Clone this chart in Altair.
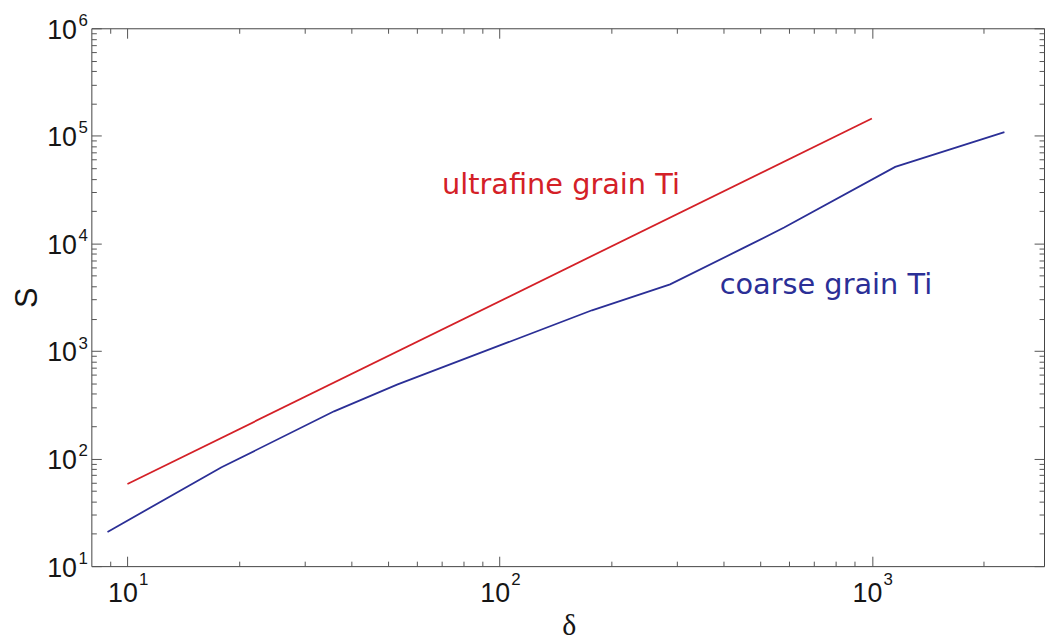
import altair as alt
import pandas as pd

# ---------------- data ----------------
series_names = ["ultrafine grain Ti", "coarse grain Ti"]
series_colors = ["#d42027", "#2b2f96"]

ufg_delta = [10, 1000]
ufg_S = [58, 145000]

cg_delta = [8.84, 17.9, 35.9, 53, 177, 287, 455, 581, 1155, 2270]
cg_S = [20.8, 83, 275, 486, 2390, 4160, 9180, 14060, 51400, 108200]

label_text = ["ultrafine grain Ti", "coarse grain Ti"]
label_delta = [70, 390]
label_S = [28600, 3410]

x_domain = [8, 2900]
y_domain = [10, 1000000]
x_major = [10, 100, 1000]
x_minor = [9] + [m * d for d in (10, 100) for m in range(2, 10)] + [2000]
y_major = [10, 100, 1000, 10000, 100000, 1000000]
y_minor = [m * d for d in (10, 100, 1000, 10000, 100000) for m in range(2, 10)]

lines = pd.concat([
    pd.DataFrame({"delta": ufg_delta, "S": ufg_S, "series": series_names[0]}),
    pd.DataFrame({"delta": cg_delta, "S": cg_S, "series": series_names[1]}),
], ignore_index=True)
labels = pd.DataFrame({"delta": label_delta, "S": label_S,
                       "series": series_names, "label": label_text})

# ---------------- scales / axes ----------------
xs = alt.Scale(type="log", domain=x_domain, nice=False)
ys = alt.Scale(type="log", domain=y_domain, nice=False)
cs = alt.Scale(domain=series_names, range=series_colors)

TICK = "#555555"
LBL = "#151515"
common = dict(grid=False, domain=False, tickColor=TICK, tickWidth=1,
              labelFlush=False, labelOverlap=False, labelBound=False, title=None)


def major_ticks(orient, values):
    return alt.Axis(orient=orient, values=values, offset=-10, tickSize=10,
                    labels=False, **common)


def minor_ticks(orient, values):
    return alt.Axis(orient=orient, values=values, offset=-5, tickSize=5,
                    labels=False, **common)


x_base_lbl = alt.Axis(orient="bottom", values=x_major, offset=-10, tickSize=10,
                      labelExpr="'10'", labelFont="Liberation Sans", labelFontSize=27,
                      labelColor=LBL, labelPadding=15, labelOffset=-5,
                      labelBaseline="top", labelAlign="center", **common)
y_base_lbl = alt.Axis(orient="left", values=y_major, offset=-10, tickSize=10,
                      labelExpr="'10'", labelFont="Liberation Sans", labelFontSize=27,
                      labelColor=LBL, labelPadding=15, labelOffset=2,
                      labelBaseline="middle", labelAlign="right", **common)

x_exp = alt.Axis(orient="bottom", values=x_major, ticks=False, tickSize=0, domain=False,
                 grid=False, labelFlush=False, labelOverlap=False, labelBound=False,
                 labelExpr="'' + round(log(datum.value) / LN10)",
                 labelFont="Liberation Sans", labelFontSize=17, labelColor=LBL,
                 labelPadding=6, labelOffset=16, labelBaseline="top", labelAlign="center",
                 title="δ", titleFont="Liberation Serif", titleFontSize=30,
                 titleFontWeight="normal", titleColor=LBL, titleX=481, titleY=69,
                 titleBaseline="alphabetic", titleAlign="center")
y_exp = alt.Axis(orient="left", values=y_major, ticks=False, tickSize=0, domain=False,
                 grid=False, labelFlush=False, labelOverlap=False, labelBound=False,
                 labelExpr="'' + round(log(datum.value) / LN10)",
                 labelFont="Liberation Sans", labelFontSize=17, labelColor=LBL,
                 labelPadding=4, labelOffset=-8, labelBaseline="middle", labelAlign="right",
                 title="S", titleFont="Liberation Sans", titleFontSize=31,
                 titleFontWeight="normal", titleColor=LBL, titleX=-64, titleY=271,
                 titleBaseline="middle", titleAlign="center")


def enc(ch, xa, ya):
    return ch.encode(
        x=alt.X("delta:Q", scale=xs, axis=xa),
        y=alt.Y("S:Q", scale=ys, axis=ya),
    )


line_layer = enc(
    alt.Chart(lines).mark_line(strokeWidth=1.8, clip=True),
    x_base_lbl, y_base_lbl,
).encode(color=alt.Color("series:N", scale=cs, legend=None), detail="series:N")

text_layer = enc(
    alt.Chart(labels).mark_text(font="DejaVu Sans", fontSize=29, align="left",
                                baseline="alphabetic"),
    x_exp, y_exp,
).encode(text="label:N", color=alt.Color("series:N", scale=cs, legend=None))

ghost = alt.Chart(lines).mark_line(opacity=0)
l3 = enc(ghost, minor_ticks("bottom", x_minor), minor_ticks("left", y_minor)).encode(detail="series:N")
l4 = enc(ghost, major_ticks("top", x_major), major_ticks("right", y_major)).encode(detail="series:N")
l5 = enc(ghost, minor_ticks("top", x_minor), minor_ticks("right", y_minor)).encode(detail="series:N")

chart = alt.layer(line_layer, text_layer, l3, l4, l5).resolve_axis(
    x="independent", y="independent"
).properties(
    width=960, height=542,
    autosize=alt.AutoSizeParams(type="none"),
    padding={"left": 84, "top": 18, "right": 2, "bottom": 72},
    background="white",
).configure_view(stroke="#444444", strokeWidth=1)

chart.save("out.html", embed_options={"renderer": "svg", "actions": False})
